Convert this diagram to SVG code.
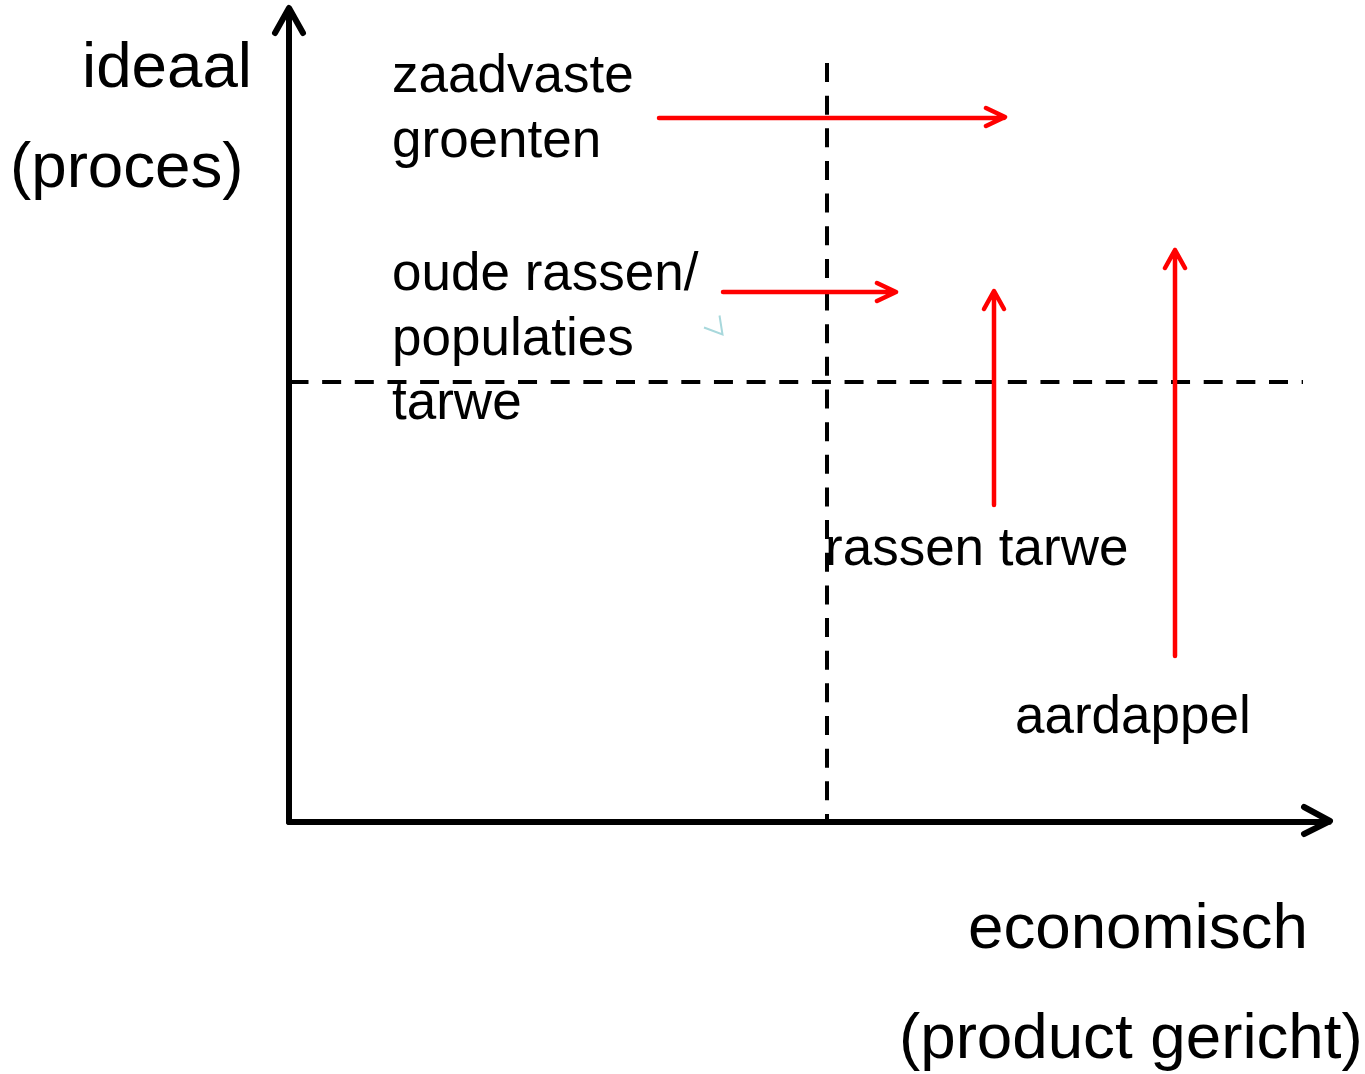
<svg xmlns="http://www.w3.org/2000/svg" width="1365" height="1074" viewBox="0 0 1365 1074">
<style>
text{font-family:"Liberation Sans",Arial,sans-serif;fill:#000}
.big{font-size:63.7px}
.sm{font-size:53px}
.axis{stroke:#000;stroke-width:6;fill:none;stroke-linecap:round;stroke-linejoin:round}
.dash{stroke:#000;stroke-width:4;fill:none;stroke-dasharray:19 13.65}
.red{stroke:#ff0000;stroke-width:4.5;fill:none;stroke-linecap:round;stroke-linejoin:round}
</style>
<rect width="1365" height="1074" fill="#fff"/>
<g id="axes">
<path class="axis" d="M289 822 V10 M275 33 L289 8 L303 33"/>
<path class="axis" d="M289 822 H1329 M1304 807 L1330 821 L1304 834"/>
</g>
<g id="connectors">
<path class="dash" d="M827 63 V822"/>
<path class="dash" d="M289.5 382 H1303"/>
<path class="red" d="M659 118 H1004 M986 108 L1005 117 L986 126"/>
<path class="red" d="M723 292 H895 M877 283 L896 292 L877 301"/>
<path class="red" d="M994 505 V292 M984 309 L994 291 L1004 309"/>
<path class="red" d="M1175 656 V250 M1165 268 L1175 250 L1185 268"/>
<polyline points="704,327.5 722.5,334.5 719.5,315.5" fill="none" stroke="#a8d8dc" stroke-width="2"/>
</g>
<g id="label-ideaal"><text class="big" x="82" y="87">ideaal</text><text class="big" x="10" y="187">(proces)</text></g>
<g id="label-economisch"><text class="big" x="968" y="948">economisch</text><text class="big" x="899" y="1058">(product gericht)</text></g>
<g id="node-zaadvaste"><text class="sm" x="392" y="92">zaadvaste</text><text class="sm" x="392" y="157">groenten</text></g>
<g id="node-oude"><text class="sm" x="392" y="290">oude rassen/</text><text class="sm" x="392" y="355">populaties</text><text class="sm" x="392" y="419">tarwe</text></g>
<g id="node-rassen"><text class="sm" x="825" y="565">rassen tarwe</text></g>
<g id="node-aardappel"><text class="sm" x="1015" y="733">aardappel</text></g>
</svg>
